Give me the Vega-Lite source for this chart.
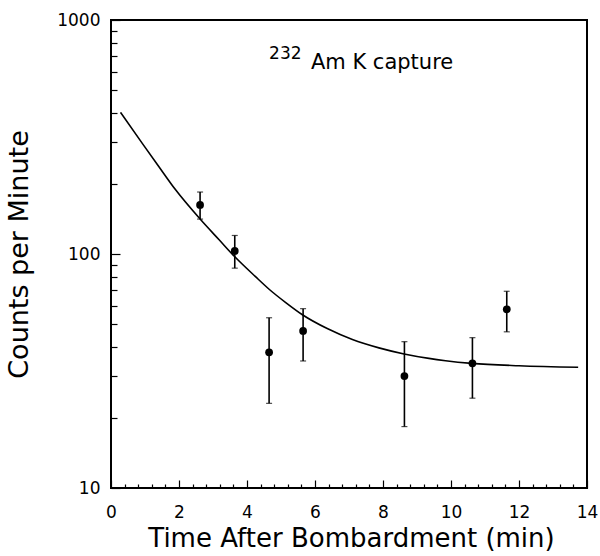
{
  "$schema": "https://vega.github.io/schema/vega-lite/v6.json",
  "autosize": "none",
  "padding": {"left": 111, "top": 20, "right": 13, "bottom": 68},
  "width": 476,
  "height": 468,
  "background": "white",
  "config": {
    "view": {"stroke": "black", "strokeWidth": 2},
    "font": "DejaVu Sans",
    "axis": {
      "domain": false,
      "grid": false,
      "ticks": true,
      "tickColor": "black",
      "tickWidth": 1.2,
      "labelColor": "black",
      "titleColor": "black",
      "labelFont": "DejaVu Sans",
      "titleFont": "DejaVu Sans",
      "labelFontSize": 17,
      "titleFontWeight": "normal",
      "labelOverlap": false,
      "labelFlush": false
    }
  },
  "datasets": {
    "points": [
      {"t": 2.62, "cpm": 162, "lo": 141, "hi": 184},
      {"t": 3.64, "cpm": 103, "lo": 87, "hi": 120},
      {"t": 4.65, "cpm": 38, "lo": 23, "hi": 53.4},
      {"t": 5.65, "cpm": 46.9, "lo": 34.9, "hi": 58.4},
      {"t": 8.63, "cpm": 30.1, "lo": 18.3, "hi": 42.2},
      {"t": 10.63, "cpm": 34.1, "lo": 24.2, "hi": 43.9},
      {"t": 11.64, "cpm": 58, "lo": 46.5, "hi": 69.3}
    ],
    "fit": [
      {"t": 0.28, "cpm": 403},
      {"t": 0.92, "cpm": 297},
      {"t": 1.41, "cpm": 236},
      {"t": 1.9, "cpm": 188},
      {"t": 2.64, "cpm": 140},
      {"t": 3.18, "cpm": 115},
      {"t": 3.62, "cpm": 98},
      {"t": 4.25, "cpm": 80},
      {"t": 4.65, "cpm": 70.7},
      {"t": 5.14, "cpm": 62},
      {"t": 5.63, "cpm": 55},
      {"t": 6.36, "cpm": 48},
      {"t": 7.1, "cpm": 43.1},
      {"t": 7.88, "cpm": 39.7},
      {"t": 8.62, "cpm": 37.4},
      {"t": 9.35, "cpm": 35.8},
      {"t": 9.84, "cpm": 35.0},
      {"t": 10.61, "cpm": 34.1},
      {"t": 12.0, "cpm": 33.3},
      {"t": 13.74, "cpm": 32.8}
    ]
  },
  "resolve": {"axis": {"x": "independent", "y": "independent"}},
  "layer": [
    {
      "data": {"name": "fit"},
      "mark": {"type": "line", "color": "black", "strokeWidth": 1.6, "interpolate": "monotone"},
      "encoding": {
        "x": {
          "field": "t",
          "type": "quantitative",
          "title": "Time After Bombardment (min)",
          "scale": {"domain": [0, 14], "nice": false, "zero": false},
          "axis": {
            "orient": "bottom",
            "titleFontSize": 26,
            "titleX": 240,
            "titleY": 58,
            "titleBaseline": "alphabetic",
            "titleAlign": "center",
            "values": [0, 2, 4, 6, 8, 10, 12, 14],
            "format": "d",
            "labelFlush": false,
            "tickSize": -8,
            "labelPadding": 24,
            "labelBaseline": "top"
          }
        },
        "y": {
          "field": "cpm",
          "type": "quantitative",
          "title": "Counts per Minute",
          "scale": {"type": "log", "domain": [10, 1000], "nice": false},
          "axis": {
            "orient": "left",
            "titleFontSize": 27,
            "titleX": -84,
            "titleY": 234,
            "titleAngle": 270,
            "titleBaseline": "alphabetic",
            "titleAlign": "center",
            "values": [10, 100, 1000],
            "format": "d",
            "labelFlush": false,
            "tickSize": -9,
            "labelPadding": 20
          }
        }
      }
    },
    {
      "data": {"name": "points"},
      "mark": {"type": "errorbar", "ticks": {"size": 6, "color": "black", "thickness": 1.2}, "rule": {"color": "black", "strokeWidth": 1.6}},
      "encoding": {
        "x": {
          "field": "t", "type": "quantitative",
          "axis": {"orient": "bottom", "title": null, "labels": false, "values": [0.4,0.8,1.2,1.6,2.4,2.8,3.2,3.6,4.4,4.8,5.2,5.6,6.4,6.8,7.2,7.6,8.4,8.8,9.2,9.6,10.4,10.8,11.2,11.6,12.4,12.8,13.2,13.6], "tickCount": 100, "tickSize": -4}
        },
        "y": {
          "field": "lo", "type": "quantitative",
          "axis": {"orient": "left", "title": null, "labels": false, "values": [20,30,40,50,60,70,80,90,200,300,400,500,600,700,800,900], "tickSize": -6}
        },
        "y2": {"field": "hi"}
      }
    },
    {
      "data": {"name": "points"},
      "mark": {"type": "point", "filled": true, "color": "black", "opacity": 1, "size": 60},
      "encoding": {
        "x": {"field": "t", "type": "quantitative", "axis": null},
        "y": {"field": "cpm", "type": "quantitative", "axis": null}
      }
    },
    {
      "data": {"values": [{"label": "Am K  capture"}]},
      "mark": {"type": "text", "font": "DejaVu Sans", "fontSize": 21, "align": "left", "baseline": "alphabetic", "color": "black"},
      "encoding": {
        "x": {"datum": 5.88, "axis": null},
        "y": {"datum": 615, "axis": null},
        "text": {"field": "label"}
      }
    },
    {
      "data": {"values": [{"label": "232"}]},
      "mark": {"type": "text", "font": "DejaVu Sans", "fontSize": 17, "align": "left", "baseline": "alphabetic", "color": "black"},
      "encoding": {
        "x": {"datum": 4.65, "axis": null},
        "y": {"datum": 684, "axis": null},
        "text": {"field": "label"}
      }
    }
  ]
}
